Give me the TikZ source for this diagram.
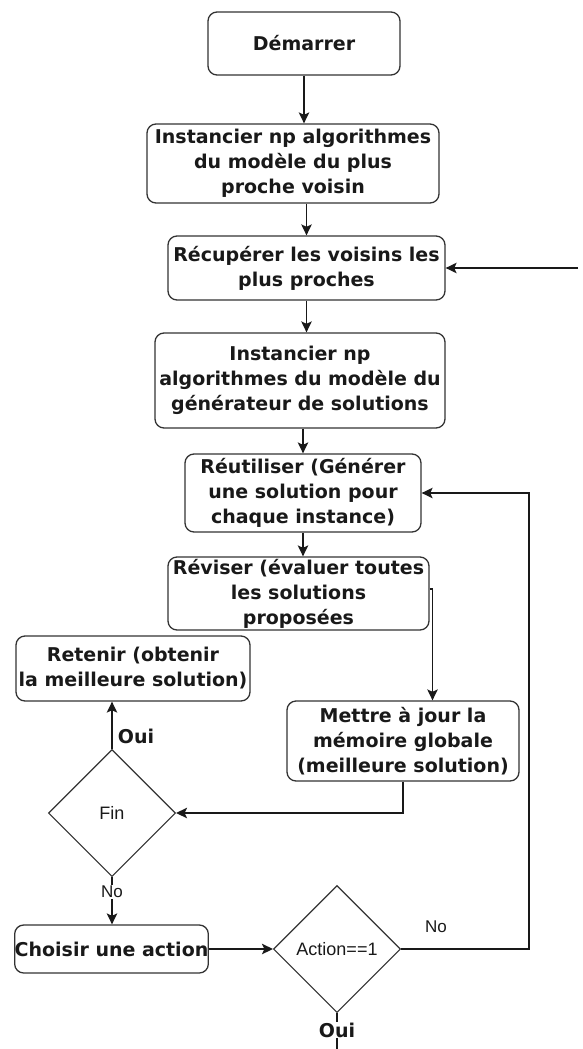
\documentclass[tikz,border=0pt]{standalone}
\usepackage{fontspec}
\setmainfont{DejaVu Sans}
\newfontfamily\arialfont{Liberation Sans}
\usetikzlibrary{arrows.meta,shapes.geometric}

\begin{document}
\begin{tikzpicture}[x=1pt,y=-1pt,
  box/.style={draw=black!80, line width=1.3pt, rounded corners=9pt, align=center,
    inner sep=0pt, text=black!90, font=\fontsize{19}{25}\selectfont\bfseries},
  dec/.style={draw=black!80, diamond, aspect=1, inner sep=0pt, line width=1.1pt,
    minimum width=127pt, minimum height=127pt, text=black!90,
    font=\arialfont\fontsize{18}{22}\selectfont},
  conn/.style={draw=black!90, line width=1.4pt},
  arr/.style={conn, -{Stealth[length=11pt,width=10.5pt,inset=2.5pt]}},
  yes/.style={font=\fontsize{19}{22}\selectfont\bfseries, text=black!90, inner sep=1pt},
  no/.style={font=\arialfont\fontsize{17}{20}\selectfont, text=black!90, inner sep=1pt}
]
\useasboundingbox (0,0) rectangle (583,1049);

% process steps
\node[box, minimum width=192pt, minimum height=63pt] (start) at (304,43.5) {Démarrer};
\node[box, minimum width=292pt, minimum height=79pt] (inst1) at (293,163.5)
  {Instancier np algorithmes\\du modèle du plus\\proche voisin};
\node[box, minimum width=277pt, minimum height=64pt] (recup) at (306.5,268)
  {Récupérer les voisins les\\plus proches};
\node[box, minimum width=290pt, minimum height=95pt] (inst2) at (300,380.5)
  {Instancier np\\algorithmes du modèle du\\générateur de solutions};
\node[box, minimum width=236pt, minimum height=78pt] (reut) at (303,493)
  {Réutiliser (Générer\\une solution pour\\chaque instance)};
\node[box, minimum width=261pt, minimum height=73pt] (revis) at (298.5,593.5)
  {Réviser (évaluer toutes\\les solutions\\proposées};
\node[box, minimum width=234pt, minimum height=65pt] (retenir) at (133,668.5)
  {Retenir (obtenir\\la meilleure solution)};
\node[box, minimum width=232pt, minimum height=80pt] (maj) at (403,741)
  {Mettre à jour la\\mémoire globale\\(meilleure solution)};
\node[box, minimum width=193pt, minimum height=48pt] (choix) at (111.5,949)
  {Choisir une action};

% decisions
\node[dec] (fin) at (112,813) {Fin};
\node[dec] (act) at (337,949) {Action==1};

% free ends and bends
\coordinate (ext) at (578,268);
\coordinate (stub) at (432.5,589);
\coordinate (loop) at (529,949);
\coordinate (exit) at (337,1049);

% main chain
\draw[arr] (start.south) -- (start.south |- inst1.north);
\draw[arr] (recup.north |- inst1.south) -- (recup.north);
\draw[arr] (ext) -- (recup.east);
\draw[arr] (recup.south) -- (recup.south |- inst2.north);
\draw[arr] (reut.north |- inst2.south) -- (reut.north);
\draw[arr] (reut.south) -- (reut.south |- revis.north);
\draw[conn] (revis.east |- stub) -- (stub);
\draw[arr] (stub) -- (stub |- maj.north);
\draw[arr] (maj.south) |- (fin.east);
\draw[arr] (fin.north) -- (fin.north |- retenir.south);
\draw[arr] (fin.south) -- (fin.south |- choix.north);
\draw[arr] (choix.east) -- (act.west);
\draw[arr] (act.east) -- (loop) |- (reut.east);
\draw[conn] (act.south) -- (exit);

% branch labels
\node[yes] (ouiA) at (136,736) {Oui};
\node[no, fill=white] (noA) at (112,892) {No};
\node[no] (noB) at (436,927) {No};
\node[yes, fill=white] (ouiB) at (337,1030) {Oui};
\end{tikzpicture}
\end{document}
